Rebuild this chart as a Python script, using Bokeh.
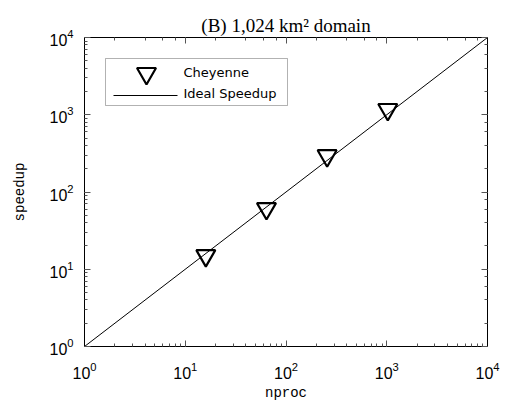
from bokeh.plotting import figure
from bokeh.models import (LogAxis, CustomJSTickFormatter, Range1d, LogTicker,
                          LinearScale, Label, BoxAnnotation, Title)
from bokeh.embed import file_html
from bokeh.resources import INLINE

nproc = [16, 64, 256, 1024]
cheyenne = [15, 61, 295, 1170]
ideal_x = [1, 10000]
ideal_y = [1, 10000]
series_names = ["Cheyenne", "Ideal Speedup"]

FW, FH = 403, 309
p = figure(x_axis_type="log", y_axis_type="log",
           x_range=Range1d(1, 10000), y_range=Range1d(1, 10000),
           output_backend="svg", toolbar_location=None,
           frame_width=FW, frame_height=FH,
           min_border_left=84, min_border_right=16, min_border_top=37, min_border_bottom=52)
p.title = Title(text="(B) 1,024 km² domain", text_font="Liberation Serif",
                text_font_size="19px", text_font_style="normal", align="center",
                text_color="black", standoff=3)
p.background_fill_color = "white"
p.border_fill_color = "white"
p.grid.visible = False
p.outline_line_color = "black"
p.outline_line_width = 1

# pixel-space ranges for legend keys
p.extra_x_ranges = {"px": Range1d(0, FW)}
p.extra_y_ranges = {"py": Range1d(0, FH)}
p.extra_x_scales = {"px": LinearScale()}
p.extra_y_scales = {"py": LinearScale()}

blank = CustomJSTickFormatter(code="return '';")

p.line(ideal_x, ideal_y, line_color="black", line_width=1)
p.scatter(nproc, cheyenne, marker="inverted_triangle", size=19,
          fill_color=None, line_color="black", line_width=2.2)

def style_axis(ax, labels=True):
    ax.major_tick_in = 6
    ax.major_tick_out = 0
    ax.minor_tick_in = 3
    ax.minor_tick_out = 0
    ax.axis_line_color = "black"
    ax.major_tick_line_color = "#555555"
    ax.minor_tick_line_color = "#555555"
    if labels:
        ax.major_label_text_font = "Liberation Sans"
        ax.major_label_text_font_size = "16px"
        ax.major_label_text_color = "black"
    else:
        ax.formatter = blank
        ax.major_label_standoff = 0

style_axis(p.xaxis[0])
style_axis(p.yaxis[0])
p.xaxis[0].major_label_standoff = 15
p.yaxis[0].major_label_standoff = 11
p.xaxis[0].axis_label = "nproc"
p.yaxis[0].axis_label = "speedup"
for ax in (p.xaxis[0], p.yaxis[0]):
    ax.axis_label_text_font = "Liberation Mono"
    ax.axis_label_text_font_size = "14px"
    ax.axis_label_text_font_style = "normal"
    ax.axis_label_text_color = "black"
p.xaxis[0].axis_label_standoff = 3
p.yaxis[0].axis_label_standoff = 18

top = LogAxis(ticker=LogTicker())
right = LogAxis(ticker=LogTicker())
style_axis(top, labels=False)
style_axis(right, labels=False)
p.add_layout(top, "above")
p.add_layout(right, "right")

# legend (drawn by hand so the key marker matches the plotted marker size)
p.add_layout(BoxAnnotation(left=21, right=203, bottom=241, top=288,
                           left_units="screen", right_units="screen",
                           bottom_units="screen", top_units="screen",
                           fill_alpha=0, line_color="black", line_width=1))
p.scatter([62], [273], x_range_name="px", y_range_name="py", marker="inverted_triangle",
          size=19, fill_color=None, line_color="black", line_width=2.2)
p.line([29, 93], [251, 251], x_range_name="px", y_range_name="py",
       line_color="black", line_width=1)
for i, name in enumerate(series_names):
    p.add_layout(Label(x=99, y=274 - 21 * i, x_units="screen", y_units="screen",
                       text=name, text_font="DejaVu Sans", text_font_size="13px",
                       text_baseline="middle", text_color="black"))

open("out.html", "w").write(file_html(p, INLINE))
